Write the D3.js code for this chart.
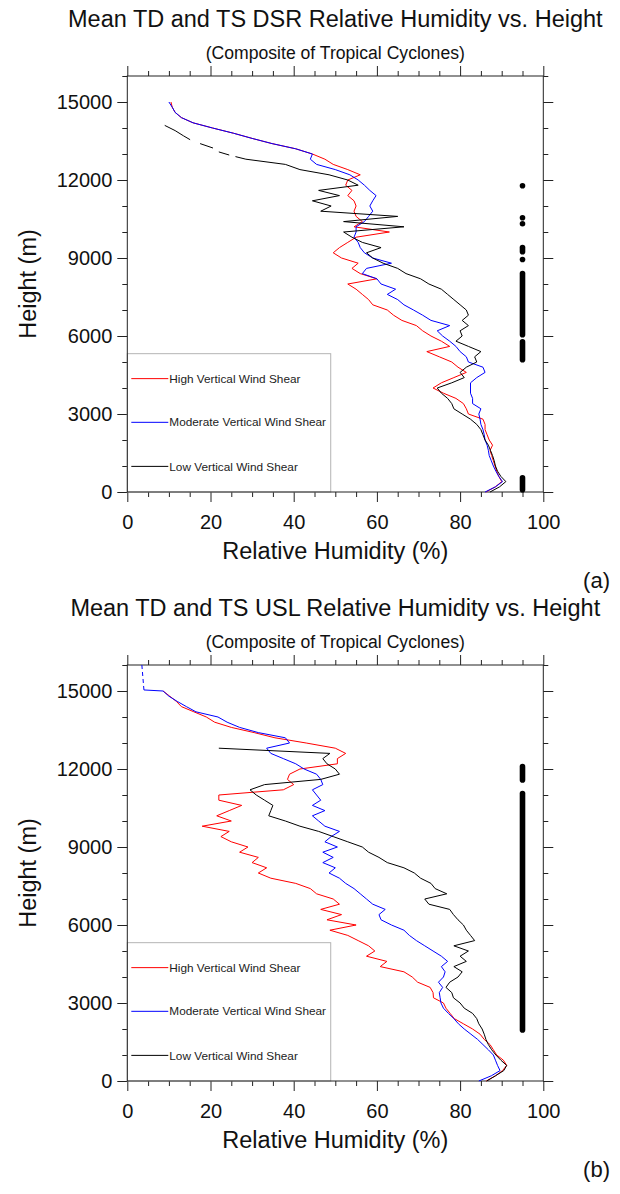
<!DOCTYPE html>
<html>
<head>
<meta charset="utf-8">
<script src="https://cdn.jsdelivr.net/npm/d3@7"></script>
<style>
body { margin: 0; background: #fff; }
svg { display: block; font-family: "Liberation Sans", Arial, Helvetica, sans-serif; }
</style>
</head>
<body>
<svg id="chart" width="620" height="1194"></svg>
<script>
// Height levels (m), shared by every profile
var heights = [0, 200, 400, 600, 800, 1000, 1200, 1400, 1600, 1800,
  2000, 2200, 2400, 2600, 2800, 3000, 3200, 3400, 3600, 3800,
  4000, 4200, 4400, 4600, 4800, 5000, 5200, 5400, 5600, 5800,
  6000, 6200, 6400, 6600, 6800, 7000, 7200, 7400, 7600, 7800,
  8000, 8200, 8400, 8600, 8800, 9000, 9200, 9400, 9600, 9800,
  10000, 10200, 10400, 10600, 10800, 11000, 11200, 11400, 11600, 11800,
  12000, 12200, 12400, 12600, 12800, 13000, 13200, 13400, 13600, 13800,
  14000, 14200, 14400, 14600, 14800, 15000];

// (a) DSR relative humidity (%)
var highA = [86.2, 88.5, 90.0, 89.3, 88.8, 88.4, 88.0, 87.6, 87.2, 87.8,
  87.0, 86.5, 86.0, 86.0, 85.5, 82.0, 81.5, 80.8, 79.0, 76.0,
  73.5, 75.5, 78.5, 81.5, 79.5, 78.0, 75.0, 72.0, 77.5, 75.5,
  73.0, 71.0, 69.5, 66.0, 64.0, 62.5, 59.0, 58.0, 56.5, 55.0,
  53.0, 60.0, 56.0, 54.0, 55.5, 51.5, 49.5, 51.0, 53.0, 55.0,
  63.0, 54.5, 56.5, 55.0, 54.5, 55.0, 54.5, 53.0, 54.0, 52.5,
  53.0, 56.0, 53.0, 49.5, 47.5, 44.5, 40.5, 34.8, 30.0, 25.5,
  20.5, 15.8, 13.0, 11.5, 10.8, 10.5];
var moderateA = [86.0, 88.5, 90.2, 89.3, 88.6, 88.0, 87.5, 87.0, 86.8, 86.5,
  86.0, 85.8, 85.5, 85.0, 84.8, 84.5, 85.0, 83.0, 83.0, 82.5,
  82.5, 82.5, 84.0, 86.0, 85.5, 82.0, 81.5, 80.0, 79.0, 77.5,
  75.8, 74.5, 77.5, 73.0, 71.0, 68.8, 66.5, 65.0, 62.5, 64.5,
  61.0, 60.0, 56.5, 57.5, 63.5, 59.0, 57.0, 56.0, 55.5, 54.5,
  55.0, 55.0, 57.0, 58.0, 59.0, 58.3, 59.0, 59.8, 58.3, 57.0,
  55.5, 53.5, 50.0, 45.5, 44.0, 44.5, 40.5, 34.8, 30.0, 25.5,
  20.5, 15.8, 13.0, 11.5, 10.8, 10.0];
var lowA = [87.2, 89.5, 91.0, 89.8, 89.0, 88.5, 88.2, 87.8, 87.3, 86.8,
  86.0, 85.5, 85.0, 84.0, 82.5, 80.5, 78.5, 78.0, 77.0, 75.5,
  74.5, 78.0, 81.0, 80.0, 81.5, 84.0, 83.5, 85.0, 82.0, 79.0,
  80.5, 80.0, 82.0, 80.5, 82.0, 81.5, 80.0, 78.5, 77.0, 75.5,
  72.5, 70.5, 67.0, 65.0, 61.5, 59.0, 57.5, 61.0, 56.5, 54.0,
  52.0, 66.5, 52.0, 65.0, 46.5, 49.0, 44.5, 51.0, 46.0, 55.5,
  53.0, 48.5, 41.5, 38.0, 28.5, null, null, null, null, null,
  null, null, null, null, null, null];
// broken top of the (a) low-shear profile
var lowTopHeightsA = [14100, 13900, 13700, 13550, null, 13400, 13230, null, 13080, 12960, null, 12900, 12800];
var lowTopValuesA = [9.0, 11.5, 13.5, 15.1, null, 17.5, 20.6, null, 22.0, 24.5, null, 26.0, 28.5];
// levels marked as significant (m), [bottom, top]
var sigA = [[88, 550], [5090, 5780], [6050, 8400], [8940, 8940], [9240, 9400],
  [10320, 10320], [10550, 10550], [11780, 11780]];

// (b) USL relative humidity (%)
var highB = [86.3, 88.5, 90.2, 91.2, 90.4, 88.8, 88.0, 87.2, 85.8, 84.8,
  83.0, 80.8, 78.6, 77.6, 76.6, 76.0, 73.6, 73.5, 72.8, 69.8,
  68.5, 66.5, 60.8, 62.4, 57.5, 59.5, 58.0, 55.5, 53.0, 48.7,
  55.0, 48.0, 51.5, 46.5, 51.0, 49.5, 45.5, 44.0, 40.5, 34.5,
  31.5, 33.5, 30.0, 31.5, 27.0, 29.0, 25.0, 22.5, 24.5, 18.0,
  25.0, 21.5, 24.5, 27.5, 22.0, 22.0, 37.5, 40.0, 38.5, 39.0,
  41.5, 50.5, 50.5, 52.5, 50.0, 43.0, 35.5, 30.5, 25.0, 21.0,
  19.0, 16.0, 13.0, 11.8, 10.2, 8.6];
var moderateB = [84.5, 87.5, 89.6, 89.0, 88.5, 88.0, 86.8, 85.5, 84.2, 82.6,
  81.0, 79.6, 78.5, 77.2, 76.0, 75.4, 75.2, 75.0, 75.8, 74.8,
  76.0, 76.4, 75.5, 77.0, 75.5, 73.5, 71.5, 69.5, 67.8, 66.5,
  63.5, 61.0, 60.5, 62.0, 59.0, 57.5, 56.0, 54.5, 52.5, 51.0,
  48.5, 50.0, 47.0, 49.5, 47.0, 50.5, 47.5, 49.0, 51.0, 47.5,
  46.0, 44.5, 47.5, 44.5, 46.5, 45.5, 44.5, 47.0, 46.5, 45.5,
  42.5, 40.5, 37.5, 34.5, 33.5, 39.0, 38.0, 31.5, 27.0, 24.0,
  21.8, 16.5, 14.2, 12.0, 10.0, 8.6];
var lowB = [86.4, 88.5, 90.5, 91.2, 89.8, 88.6, 87.6, 86.8, 86.2, 85.8,
  85.3, 84.5, 84.0, 83.0, 81.0, 80.0, 78.4, 78.0, 76.6, 77.5,
  79.5, 80.5, 78.5, 81.5, 80.0, 82.0, 78.5, 83.5, 82.5, 81.5,
  80.8, 79.5, 78.4, 77.5, 72.5, 71.5, 76.8, 74.0, 73.0, 70.5,
  69.0, 66.5, 62.5, 60.5, 58.0, 56.5, 53.0, 49.5, 46.0, 41.5,
  38.0, 34.0, 34.5, 35.0, 33.0, 31.0, 29.5, 33.0, 46.5, 51.0,
  50.0, 48.0, 47.0, 48.7, 22.0, null, null, null, null, null,
  null, null, null, null, null, null];
// top of the (b) moderate-shear profile: solid step, then missing (dashed)
var moderateTopHeightsB = [15000, 15040];
var moderateTopValuesB = [8.6, 4.0];
var moderateMissHeightsB = [15040, 16000];
var moderateMissValuesB = [4.0, 3.5];
var sigB = [[1960, 11060], [11580, 12090]];

var seriesNames = ["High Vertical Wind Shear", "Moderate Vertical Wind Shear", "Low Vertical Wind Shear"];
var seriesColors = ["#ff0000", "#0000ff", "#000000"];

var xMajor = [0, 20, 40, 60, 80, 100];
var xMinor = [5, 10, 15, 25, 30, 35, 45, 50, 55, 65, 70, 75, 85, 90, 95];
var yMajor = [0, 3000, 6000, 9000, 12000, 15000];
var yMinor = [1000, 2000, 4000, 5000, 7000, 8000, 10000, 11000, 13000, 14000, 16000];

var svg = d3.select("#chart");
var W = 416, H = 416;
var x = d3.scaleLinear().domain([0, 100]).range([0, W]);
var y = d3.scaleLinear().domain([0, 16000]).range([H, 0]);

var line = d3.line()
  .defined(function(d) { return d[1] != null && d[0] != null; })
  .x(function(d) { return x(d[1]); })
  .y(function(d) { return y(d[0]); });

function pairs(hs, vs) {
  return hs.map(function(h, i) { return [h, vs[i]]; });
}

function styleAxis(a) {
  a.select(".domain").remove();
  a.selectAll("line").attr("stroke", "#222");
  a.selectAll("text").attr("fill", "#111").attr("font-size", 20);
}

function drawPanel(top, cfg) {
  var g = svg.append("g").attr("transform", "translate(127.3," + top + ")");

  g.append("text").attr("x", W / 2).attr("y", -49.5)
    .attr("text-anchor", "middle").attr("font-size", 23.5).attr("fill", "#111")
    .text(cfg.title);
  g.append("text").attr("x", W / 2).attr("y", -16.6)
    .attr("text-anchor", "middle").attr("font-size", 17.6).attr("fill", "#111")
    .text("(Composite of Tropical Cyclones)");

  // axes (ticks outward on all four sides)
  g.append("g").attr("transform", "translate(0," + H + ")")
    .call(d3.axisBottom(x).tickValues(xMajor).tickSize(10).tickPadding(12.5).tickSizeOuter(0))
    .call(styleAxis);
  g.append("g").attr("transform", "translate(0," + H + ")")
    .call(d3.axisBottom(x).tickValues(xMinor).tickSize(5).tickFormat("").tickSizeOuter(0))
    .call(styleAxis);
  g.append("g")
    .call(d3.axisTop(x).tickValues(xMajor).tickSize(10).tickFormat("").tickSizeOuter(0))
    .call(styleAxis);
  g.append("g")
    .call(d3.axisTop(x).tickValues(xMinor).tickSize(5).tickFormat("").tickSizeOuter(0))
    .call(styleAxis);
  g.append("g")
    .call(d3.axisLeft(y).tickValues(yMajor).tickSize(10).tickPadding(5).tickFormat(d3.format("d")).tickSizeOuter(0))
    .call(styleAxis);
  g.append("g")
    .call(d3.axisLeft(y).tickValues(yMinor).tickSize(5).tickFormat("").tickSizeOuter(0))
    .call(styleAxis);
  g.append("g").attr("transform", "translate(" + W + ",0)")
    .call(d3.axisRight(y).tickValues(yMajor).tickSize(10).tickFormat("").tickSizeOuter(0))
    .call(styleAxis);
  g.append("g").attr("transform", "translate(" + W + ",0)")
    .call(d3.axisRight(y).tickValues(yMinor).tickSize(5).tickFormat("").tickSizeOuter(0))
    .call(styleAxis);

  g.append("text").attr("x", W / 2).attr("y", H + 67)
    .attr("text-anchor", "middle").attr("font-size", 23.5).attr("fill", "#111")
    .text("Relative Humidity (%)");
  g.append("text").attr("transform", "translate(-91,208) rotate(-90)")
    .attr("text-anchor", "middle").attr("font-size", 23.5).attr("fill", "#111")
    .text("Height (m)");
  g.append("text").attr("x", 482.7).attr("y", H + 96)
    .attr("text-anchor", "end").attr("font-size", 22).attr("fill", "#111")
    .text(cfg.tag);

  // legend
  var lg = g.append("g");
  lg.append("rect").attr("x", 0).attr("y", y(5320)).attr("width", x(48.9)).attr("height", H - y(5320))
    .attr("fill", "#fff").attr("stroke", "#b4b4b4").attr("stroke-width", 1);
  var legendY = [4360, 2680, 985];
  seriesNames.forEach(function(name, i) {
    var ly = y(legendY[i]);
    lg.append("line").attr("x1", 4).attr("x2", 41).attr("y1", ly).attr("y2", ly)
      .attr("stroke", seriesColors[i]).attr("stroke-width", 1);
    lg.append("text").attr("x", 42).attr("y", ly).attr("dy", "0.35em")
      .attr("font-size", 11.8).attr("fill", "#222").text(name);
  });

  // frame
  g.append("rect").attr("width", W).attr("height", H)
    .attr("fill", "none").attr("stroke", "#222").attr("stroke-width", 1);

  // profiles
  cfg.series.forEach(function(vals, i) {
    g.append("path").datum(pairs(heights, vals))
      .attr("d", line).attr("fill", "none")
      .attr("stroke", seriesColors[i]).attr("stroke-width", 1);
  });
  cfg.extras.forEach(function(e) {
    g.append("path").datum(pairs(e.h, e.v))
      .attr("d", line).attr("fill", "none")
      .attr("stroke", seriesColors[e.s]).attr("stroke-width", 1)
      .attr("stroke-dasharray", e.dash || null);
  });

  // significance markers
  g.selectAll(".sig").data(cfg.sig).enter().append("line")
    .attr("x1", x(95)).attr("x2", x(95))
    .attr("y1", function(d) { return y(d[0]); })
    .attr("y2", function(d) { return y(d[1]); })
    .attr("stroke", "#000").attr("stroke-width", 5.6).attr("stroke-linecap", "round");
}

drawPanel(76, {
  title: "Mean TD and TS DSR Relative Humidity vs. Height",
  tag: "(a)",
  series: [highA, moderateA, lowA],
  extras: [{h: lowTopHeightsA, v: lowTopValuesA, s: 2}],
  sig: sigA
});
drawPanel(665, {
  title: "Mean TD and TS USL Relative Humidity vs. Height",
  tag: "(b)",
  series: [highB, moderateB, lowB],
  extras: [{h: moderateTopHeightsB, v: moderateTopValuesB, s: 1},
           {h: moderateMissHeightsB, v: moderateMissValuesB, s: 1, dash: "4,3"}],
  sig: sigB
});
</script>
</body>
</html>
